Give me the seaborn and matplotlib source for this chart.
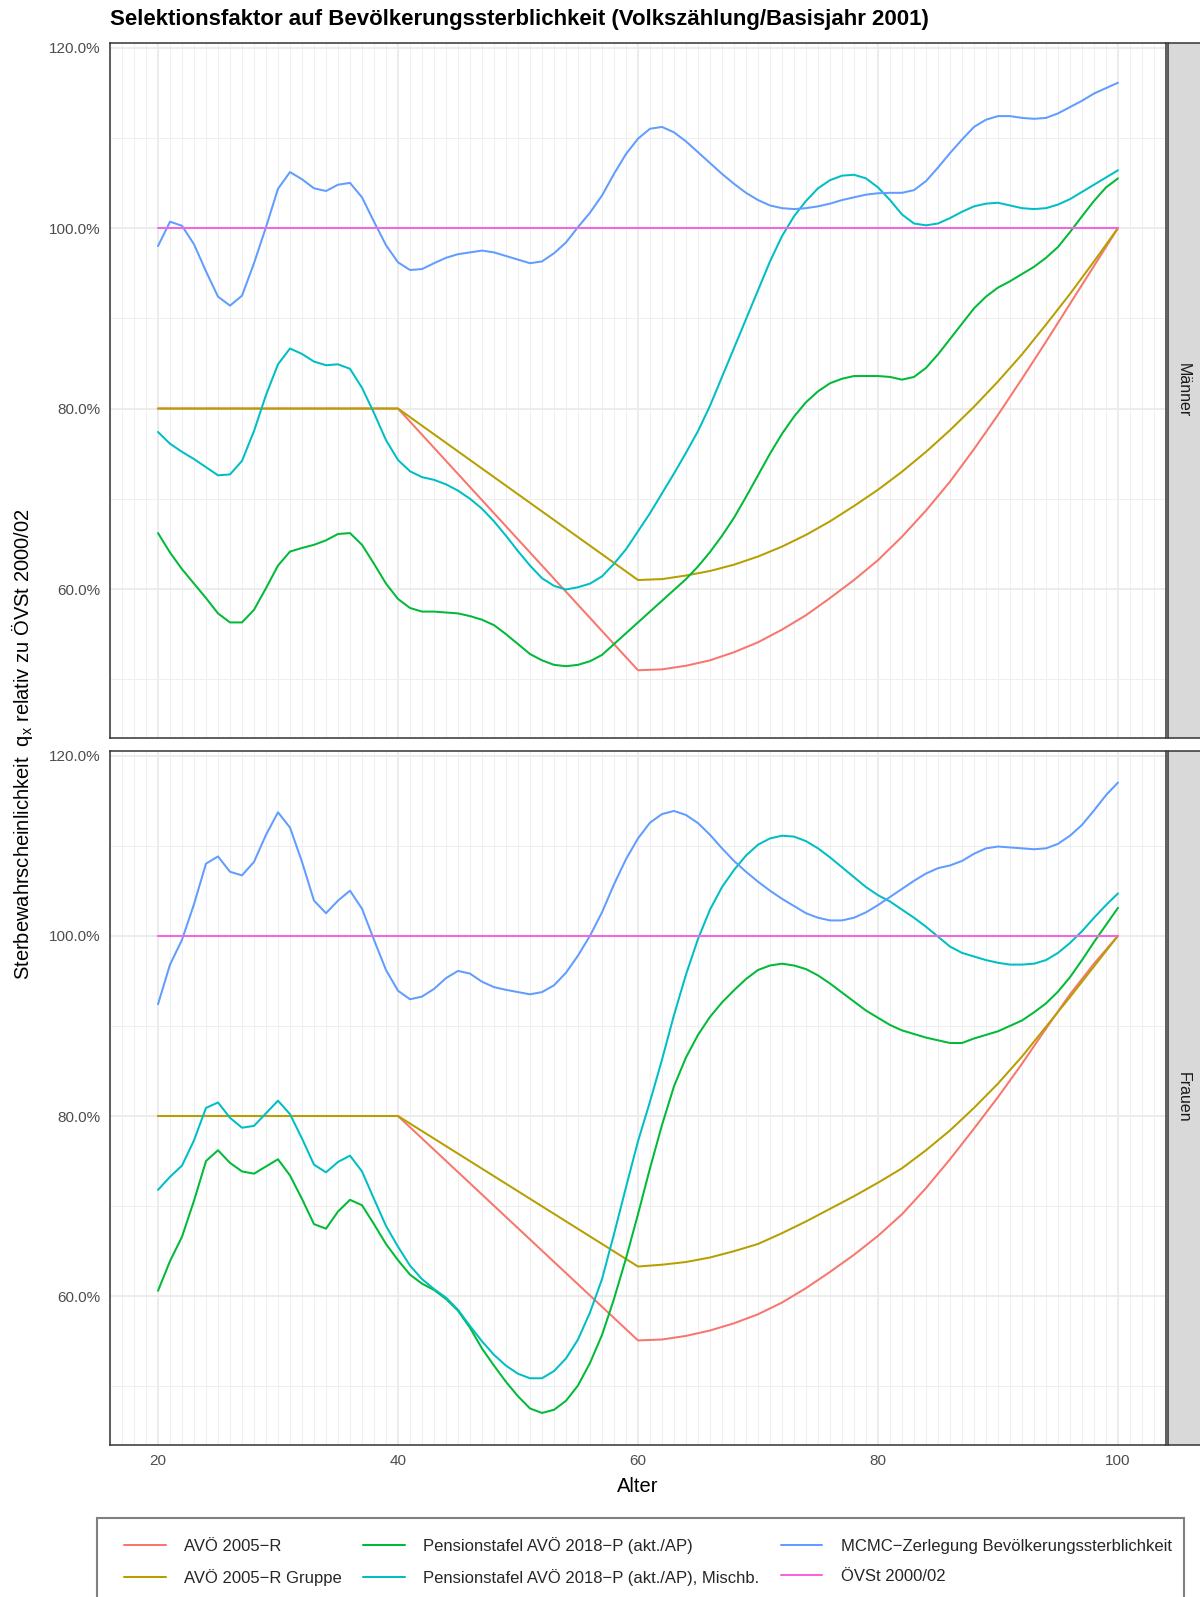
import numpy as np
import pandas as pd
import matplotlib
matplotlib.use("Agg")
import matplotlib.pyplot as plt
import seaborn as sns
from matplotlib.ticker import FixedLocator, MultipleLocator, FuncFormatter
from matplotlib.lines import Line2D
from matplotlib.patches import Rectangle

# ---------------- data ----------------
AGES = list(range(20, 101))
STEP_AGES = [20, 40, 60, 62, 64, 66, 68, 70, 72, 74, 76, 78, 80,
             82, 84, 86, 88, 90, 92, 94, 96, 98, 100]
REF_AGES = [20, 100]

SERIES = ["AVÖ 2005−R", "AVÖ 2005−R Gruppe", "Pensionstafel AVÖ 2018−P (akt./AP)",
          "Pensionstafel AVÖ 2018−P (akt./AP), Mischb.",
          "MCMC−Zerlegung Bevölkerungssterblichkeit", "ÖVSt 2000/02"]
COLORS = ["#F8766D", "#B79F00", "#00BA38", "#00BFC4", "#619CFF", "#F564E3"]
PANELS = ["Männer", "Frauen"]

# Männer
m_avoe_r = [80, 80, 51.0, 51.1, 51.5, 52.1, 53.0, 54.1, 55.5, 57.1, 59.0, 61.0, 63.2,
            65.8, 68.7, 71.9, 75.5, 79.3, 83.3, 87.4, 91.6, 95.8, 100]
m_avoe_rg = [80, 80, 61.0, 61.1, 61.5, 62.0, 62.7, 63.6, 64.7, 66.0, 67.5, 69.2, 71.0,
             73.0, 75.2, 77.6, 80.2, 83.0, 86.0, 89.3, 92.7, 96.3, 100]
m_pens = [66.2, 64.05, 62.2, 60.6, 59.0, 57.3, 56.3, 56.3, 57.7, 60.1,
          62.6, 64.15, 64.55, 64.9, 65.4, 66.1, 66.2, 64.9, 62.8, 60.6,
          58.9, 57.9, 57.5, 57.5, 57.4, 57.3, 57.0, 56.6, 56.0, 55.0,
          53.9, 52.8, 52.1, 51.6, 51.45, 51.6, 52.0, 52.7, 53.9, 55.1,
          56.3, 57.5, 58.7, 59.9, 61.1, 62.5, 64.1, 65.9, 67.9, 70.2,
          72.6, 75.0, 77.2, 79.1, 80.7, 81.9, 82.8, 83.3, 83.6, 83.6,
          83.6, 83.5, 83.2, 83.5, 84.5, 86.0, 87.7, 89.4, 91.1, 92.4,
          93.4, 94.1, 94.9, 95.7, 96.7, 97.9, 99.55, 101.3, 103.0, 104.5, 105.5]
m_pens_mix = [77.4, 76.1, 75.2, 74.4, 73.5, 72.6, 72.7, 74.2, 77.5, 81.5,
              84.9, 86.65, 86.05, 85.2, 84.8, 84.9, 84.4, 82.3, 79.5, 76.5,
              74.3, 73.05, 72.4, 72.1, 71.6, 70.9, 70.0, 68.9, 67.5, 65.9,
              64.2, 62.6, 61.2, 60.35, 59.95, 60.2, 60.6, 61.4, 62.8, 64.4,
              66.4, 68.4, 70.6, 72.8, 75.1, 77.5, 80.3, 83.5, 86.7, 89.9,
              93.1, 96.3, 99.1, 101.3, 103.0, 104.4, 105.3, 105.8, 105.9, 105.5,
              104.5, 103.1, 101.5, 100.5, 100.3, 100.5, 101.1, 101.8, 102.4, 102.7,
              102.8, 102.5, 102.2, 102.1, 102.2, 102.6, 103.2, 104.0, 104.8, 105.6, 106.4]
m_mcmc = [98.0, 100.7, 100.25, 98.2, 95.2, 92.4, 91.4, 92.5, 96.1, 100.1,
          104.35, 106.2, 105.4, 104.4, 104.1, 104.8, 105.0, 103.4, 100.7, 98.1,
          96.2, 95.35, 95.45, 96.1, 96.7, 97.1, 97.3, 97.5, 97.3, 96.9,
          96.5, 96.1, 96.3, 97.2, 98.4, 100.1, 101.7, 103.6, 106.0, 108.2,
          109.9, 111.0, 111.2, 110.6, 109.6, 108.4, 107.2, 106.0, 104.9, 103.9,
          103.1, 102.5, 102.2, 102.1, 102.2, 102.4, 102.7, 103.1, 103.4, 103.7,
          103.85, 103.9, 103.9, 104.2, 105.2, 106.7, 108.3, 109.8, 111.2, 112.0,
          112.4, 112.4, 112.2, 112.1, 112.2, 112.7, 113.4, 114.1, 114.9, 115.5, 116.1]
m_ref = [100, 100]

# Frauen
f_avoe_r = [80, 80, 55.1, 55.2, 55.6, 56.2, 57.0, 58.0, 59.3, 60.9, 62.7, 64.6, 66.7,
            69.1, 72.0, 75.2, 78.6, 82.1, 85.8, 89.7, 93.5, 96.9, 100]
f_avoe_rg = [80, 80, 63.3, 63.5, 63.8, 64.3, 65.0, 65.8, 67.0, 68.3, 69.7, 71.1, 72.6,
             74.2, 76.2, 78.4, 80.9, 83.6, 86.6, 89.9, 93.2, 96.6, 100]
f_pens = [60.6, 63.9, 66.6, 70.6, 75.0, 76.2, 74.8, 73.85, 73.6, 74.4,
          75.2, 73.4, 70.8, 68.0, 67.5, 69.4, 70.7, 70.1, 68.0, 65.8,
          64.0, 62.4, 61.4, 60.7, 59.7, 58.4, 56.5, 54.2, 52.3, 50.5,
          48.9, 47.55, 47.05, 47.4, 48.4, 50.1, 52.6, 55.7, 59.7, 64.2,
          69.1, 74.2, 79.0, 83.3, 86.5, 89.0, 91.0, 92.6, 93.95, 95.2,
          96.2, 96.7, 96.9, 96.7, 96.3, 95.6, 94.7, 93.7, 92.7, 91.7,
          90.9, 90.1, 89.5, 89.1, 88.7, 88.4, 88.1, 88.1, 88.6, 89.0,
          89.4, 90.0, 90.6, 91.5, 92.5, 93.8, 95.4, 97.3, 99.3, 101.2, 103.1]
f_pens_mix = [71.8, 73.25, 74.5, 77.3, 80.9, 81.5, 79.8, 78.7, 78.9, 80.3,
              81.7, 80.2, 77.5, 74.6, 73.75, 74.9, 75.6, 73.85, 70.8, 67.8,
              65.5, 63.4, 61.9, 60.8, 59.85, 58.5, 56.7, 55.0, 53.5, 52.3,
              51.4, 50.9, 50.9, 51.7, 53.1, 55.2, 58.2, 61.9, 66.9, 72.1,
              77.2, 81.6, 86.25, 91.2, 95.7, 99.65, 102.9, 105.4, 107.3, 108.9,
              110.1, 110.8, 111.1, 111.0, 110.5, 109.7, 108.7, 107.6, 106.5, 105.4,
              104.5, 103.8, 102.9, 102.0, 101.0, 99.9, 98.8, 98.1, 97.7, 97.3,
              97.0, 96.8, 96.8, 96.9, 97.3, 98.1, 99.2, 100.5, 102.0, 103.4, 104.7]
f_mcmc = [92.4, 96.8, 99.55, 103.5, 108.0, 108.8, 107.1, 106.7, 108.2, 111.2,
          113.7, 112.0, 108.2, 103.9, 102.5, 103.9, 105.0, 103.0, 99.55, 96.2,
          93.9, 92.95, 93.25, 94.1, 95.3, 96.1, 95.8, 94.9, 94.3, 94.0,
          93.75, 93.5, 93.75, 94.5, 95.9, 97.8, 100.0, 102.6, 105.7, 108.5,
          110.8, 112.55, 113.5, 113.85, 113.4, 112.5, 111.2, 109.7, 108.3, 107.1,
          106.0, 105.0, 104.1, 103.3, 102.5, 102.0, 101.7, 101.7, 102.0, 102.6,
          103.4, 104.3, 105.2, 106.1, 106.9, 107.5, 107.8, 108.3, 109.1, 109.7,
          109.9, 109.8, 109.7, 109.6, 109.7, 110.2, 111.1, 112.3, 113.9, 115.6, 117.0]
f_ref = [100, 100]

TITLE = "Selektionsfaktor auf Bevölkerungssterblichkeit (Volkszählung/Basisjahr 2001)"
XLABEL = "Alter"
YLABEL = r"Sterbewahrscheinlichkeit  $\mathregular{q_x}$ relativ zu ÖVSt 2000/02"
XTICKS = [20, 40, 60, 80, 100]
YTICKS = [60, 80, 100, 120]
YMINOR = [50, 70, 90, 110]

# ---------------- long table ----------------
def rows(panel, series, ages, vals):
    return pd.DataFrame({"Geschlecht": panel, "Serie": series, "Alter": ages, "Wert": vals})

parts = []
for panel, sets in [("Männer", [m_avoe_r, m_avoe_rg, m_pens, m_pens_mix, m_mcmc, m_ref]),
                    ("Frauen", [f_avoe_r, f_avoe_rg, f_pens, f_pens_mix, f_mcmc, f_ref])]:
    xs = [STEP_AGES, STEP_AGES, AGES, AGES, AGES, REF_AGES]
    for s, a, v in zip(SERIES, xs, sets):
        parts.append(rows(panel, s, a, v))
df = pd.concat(parts, ignore_index=True)

# ---------------- styling ----------------
sns.set_theme(style="white")
plt.rcParams['font.family'] = ['Liberation Sans', 'DejaVu Sans']
plt.rcParams['mathtext.fontset'] = 'custom'
plt.rcParams['mathtext.rm'] = 'Liberation Sans'

W, H = 1200, 1597
fig = plt.figure(figsize=(W / 100, H / 100), dpi=100)
fig.patch.set_facecolor("white")

def fx(px):
    return px / W

def fy(py):
    return 1 - py / H

left, right = 110, 1166
panel_y = [(43, 737.5), (751, 1444.5)]
ymin, ymax = 43.55, 120.5

for i, panel in enumerate(PANELS):
    top, bot = panel_y[i]
    ax = fig.add_axes([fx(left), fy(bot), fx(right - left), (bot - top) / H])
    sub = df[df["Geschlecht"] == panel]
    sns.lineplot(data=sub, x="Alter", y="Wert", hue="Serie", hue_order=SERIES,
                 palette=COLORS, estimator=None, errorbar=None, legend=False,
                 linewidth=1.45, ax=ax)
    ax.set_xlim(16, 104)
    ax.set_ylim(ymin, ymax)
    ax.xaxis.set_major_locator(FixedLocator(XTICKS))
    ax.xaxis.set_minor_locator(MultipleLocator(1))
    ax.yaxis.set_major_locator(FixedLocator(YTICKS))
    ax.yaxis.set_minor_locator(FixedLocator(YMINOR))
    ax.yaxis.set_major_formatter(FuncFormatter(lambda v, p: f"{v:.1f}%"))
    ax.set_axisbelow(True)
    ax.grid(which="major", color="#EBEBEB", linewidth=1.3)
    ax.grid(which="minor", color="#EFEFEF", linewidth=0.7)
    ax.tick_params(which="minor", length=0)
    ax.tick_params(which="major", length=4, width=1.0, color="#333333",
                   labelcolor="#4D4D4D", labelsize=11, pad=3)
    ax.set_xlabel("")
    ax.set_ylabel("")
    for sp in ax.spines.values():
        sp.set_color("#333333")
        sp.set_linewidth(1.1)
    if i == 0:
        ax.tick_params(axis="x", which="both", bottom=False, labelbottom=False)
    # strip
    sax = fig.add_axes([fx(1168), fy(bot), fx(W - 1168 + 2), (bot - top) / H])
    sax.set_facecolor("#D9D9D9")
    sax.set_xticks([])
    sax.set_yticks([])
    for sp in sax.spines.values():
        sp.set_color("#333333")
        sp.set_linewidth(1.1)
    sax.text(0.45, 0.5, panel, rotation=-90, ha="center", va="center",
             fontsize=11.5, color="#1A1A1A", transform=sax.transAxes)

fig.text(fx(110), fy(19), TITLE, fontsize=16, fontweight="bold", ha="left",
         va="center", color="black")
fig.text(fx(638), fy(1487), XLABEL, fontsize=14.5, ha="center", va="center", color="black")
fig.text(fx(22), fy(744), YLABEL, fontsize=14.5, rotation=90, ha="center",
         va="center", color="black")

handles = [Line2D([0], [0], color=c, linewidth=1.45) for c in COLORS]
fig.legend(handles, SERIES, ncol=3, loc="upper left",
           bbox_to_anchor=(fx(124), fy(1537)), frameon=False, fontsize=12,
           handlelength=2.5, handletextpad=1.1, columnspacing=1.28,
           labelspacing=0.9, borderpad=0, borderaxespad=0)
fig.patches.append(Rectangle((fx(97), -0.02), fx(1184 - 97), fy(1518) + 0.02,
                             transform=fig.transFigure, fill=False,
                             edgecolor="#808080", linewidth=1.5))

fig.savefig("out.png", dpi=100, facecolor="white")
